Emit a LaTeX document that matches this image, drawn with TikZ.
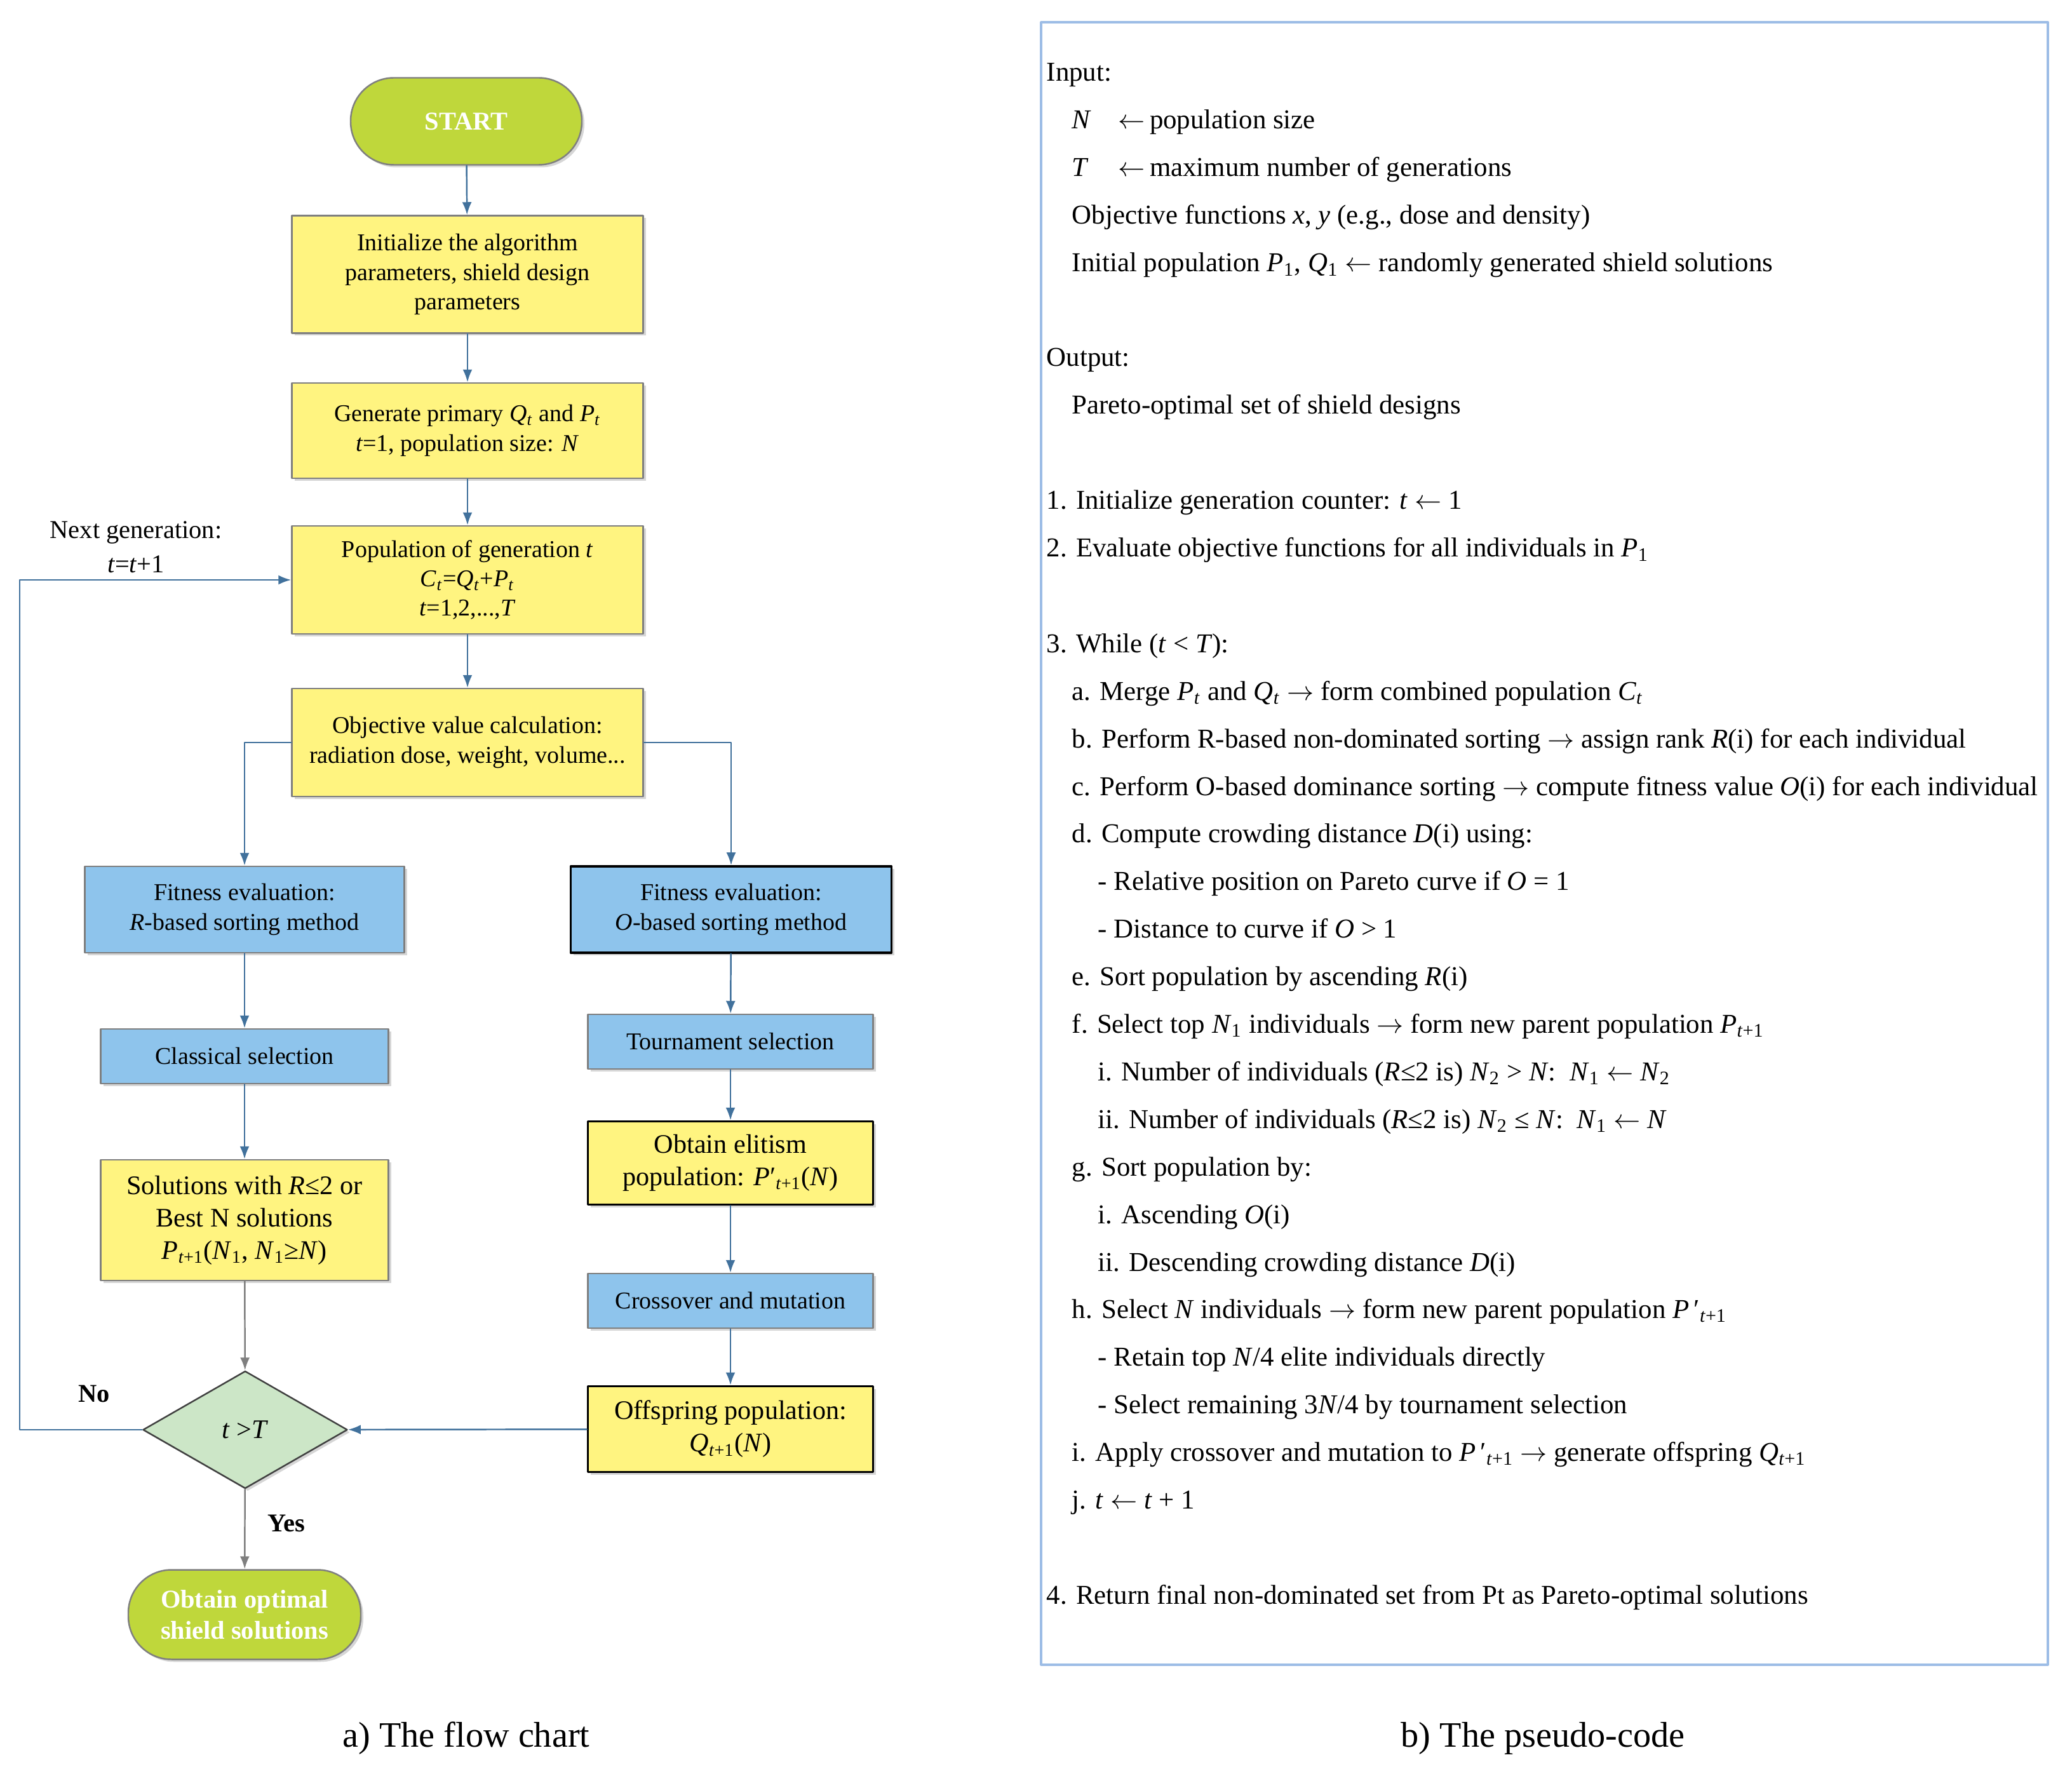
\documentclass[tikz,border=0pt]{standalone}
\usepackage{fontspec}
\setmainfont{Liberation Serif}
\usepackage{tikz}
\usetikzlibrary{arrows.meta,shapes.geometric,shadows}
\definecolor{startgreen}{RGB}{191,215,59}
\definecolor{boxyellow}{RGB}{255,244,128}
\definecolor{boxblue}{RGB}{142,196,236}
\definecolor{diagreen}{RGB}{204,230,199}
\definecolor{edgegray}{RGB}{127,127,127}
\definecolor{flowblue}{RGB}{65,113,156}
\definecolor{framblue}{RGB}{157,189,230}
\newcommand{\itv}[1]{\textit{#1}}
\newcommand{\idx}[1]{\textsubscript{#1}}
\newcommand{\lar}{$\leftarrow$}
\newcommand{\rar}{$\rightarrow$}
\tikzset{
  fcbox/.style={draw=edgegray, line width=0.7pt, align=center, inner sep=2pt,
    font=\fontsize{10.8}{13.2}\selectfont,
    drop shadow={shadow xshift=0.4mm, shadow yshift=-0.4mm, fill=black!40, opacity=0.4}},
  yellowbox/.style={fcbox, fill=boxyellow},
  bluebox/.style={fcbox, fill=boxblue},
  darkedge/.style={draw=black, line width=1pt},
  termbox/.style={fcbox, fill=startgreen, rounded corners=0.68cm, text=white,
    font=\fontsize{11.5}{14}\selectfont\bfseries},
  flow/.style={draw=flowblue, line width=0.7pt, -{Latex[length=2mm,width=1.5mm]}},
  grayflow/.style={flow, draw=edgegray},
  codeline/.style={anchor=base west, inner sep=0pt, font=\fontsize{12.2}{15}\selectfont},
  caption/.style={font=\fontsize{16}{19}\selectfont}
}
\begin{document}
\begin{tikzpicture}[line cap=round,line join=round,x=1.0cm,y=1.0cm]
	\useasboundingbox (0,0) rectangle (32.62,-28.04);
	% flow chart
	\node[termbox, minimum width=3.64cm, minimum height=1.37cm] (start) at (7.34,-1.91) {START};
	\node[yellowbox, minimum width=5.53cm, minimum height=1.85cm] (init) at (7.36,-4.32) {Initialize the algorithm\\parameters, shield design\\parameters};
	\node[yellowbox, minimum width=5.53cm, minimum height=1.50cm] (gen) at (7.36,-6.78) {Generate primary \itv{Q}\idx{\itv{t}} and \itv{P}\idx{\itv{t}}\\\itv{t}=1, population size: \itv{N}};
	\node[yellowbox, minimum width=5.53cm, minimum height=1.70cm] (pop) at (7.36,-9.13) {Population of generation \itv{t}\\\itv{C}\idx{\itv{t}}=\itv{Q}\idx{\itv{t}}+\itv{P}\idx{\itv{t}}\\\itv{t}=1,2,...,\itv{T}};
	\node[yellowbox, minimum width=5.53cm, minimum height=1.70cm] (obj) at (7.36,-11.69) {Objective value calculation:\\radiation dose, weight, volume...};
	\node[bluebox, minimum width=5.03cm, minimum height=1.36cm] (fitR) at (3.85,-14.32) {Fitness evaluation:\\\itv{R}-based sorting method};
	\node[bluebox, darkedge, minimum width=5.05cm, minimum height=1.36cm] (fitO) at (11.51,-14.32) {Fitness evaluation:\\\itv{O}-based sorting method};
	\node[bluebox, minimum width=4.53cm, minimum height=0.86cm] (clsel) at (3.85,-16.63) {Classical selection};
	\node[bluebox, minimum width=4.49cm, minimum height=0.86cm] (tour) at (11.50,-16.40) {Tournament selection};
	\node[yellowbox, font=\fontsize{12}{14.5}\selectfont, minimum width=4.53cm, minimum height=1.90cm] (sol) at (3.85,-19.21) {Solutions with \itv{R}≤2 or\\Best N solutions\\\itv{P}\idx{\itv{t}+1}(\itv{N}\idx{1}, \itv{N}\idx{1}≥\itv{N})};
	\node[yellowbox, darkedge, font=\fontsize{12}{14.5}\selectfont, minimum width=4.49cm, minimum height=1.31cm] (elit) at (11.50,-18.31) {Obtain elitism\\population: \itv{P}′\idx{\itv{t}+1}(\itv{N})};
	\node[bluebox, minimum width=4.49cm, minimum height=0.86cm] (cross) at (11.50,-20.48) {Crossover and mutation};
	\node[yellowbox, darkedge, font=\fontsize{12}{14.5}\selectfont, minimum width=4.49cm, minimum height=1.35cm] (off) at (11.50,-22.50) {Offspring population:\\\itv{Q}\idx{\itv{t}+1}(\itv{N})};
	\node[fcbox, diamond, draw=black!75, fill=diagreen, inner sep=0pt, font=\fontsize{12}{14.5}\selectfont, minimum width=3.22cm, minimum height=1.85cm] (dec) at (3.86,-22.51) {\itv{t} >\itv{T}};
	\node[termbox, minimum width=3.66cm, minimum height=1.41cm] (fin) at (3.85,-25.42) {Obtain optimal\\shield solutions};
	\coordinate (loopc) at (0.31,-22.51);
	% connectors
	\draw[flow] (start) -- (init);
	\draw[flow] (init) -- (gen);
	\draw[flow] (gen) -- (pop);
	\draw[flow] (pop) -- (obj);
	\draw[flow] (obj.west) -| (fitR.north);
	\draw[flow] (obj.east) -| (fitO.north);
	\draw[flow] (fitR) -- (clsel);
	\draw[flow] (clsel) -- (sol);
	\draw[grayflow] (sol) -- (dec);
	\draw[flow] (fitO) -- (tour);
	\draw[flow] (tour) -- (elit);
	\draw[flow] (elit) -- (cross);
	\draw[flow] (cross) -- (off);
	\draw[flow] (off) -- (dec);
	\draw[grayflow] (dec) -- (fin);
	\draw[flow] (dec.west) -- (loopc) |- (pop.west);
	\draw (2.14,-8.38) node[font=\fontsize{11.5}{14}\selectfont] (nextgen) {Next generation:};
	\draw (2.14,-8.88) node[font=\fontsize{11.5}{14}\selectfont] (nextt) {\itv{t}=\itv{t}+1};
	\draw (1.48,-21.94) node[font=\fontsize{11.5}{14}\selectfont\bfseries] (nolab) {No};
	\draw (4.51,-23.98) node[font=\fontsize{11.5}{14}\selectfont\bfseries] (yeslab) {Yes};
	% pseudo-code
	\draw[framblue, line width=0.9pt] (16.39,-0.35) rectangle (32.24,-26.21);
	\draw (16.47,-1.28) node[codeline] (l0) {Input:};
	\draw (16.87,-2.03) node[codeline] (l1) {\makebox[0.73cm][l]{\itv{N}}\lar\,population size};
	\draw (16.87,-2.78) node[codeline] (l2) {\makebox[0.73cm][l]{\itv{T}}\lar\,maximum number of generations};
	\draw (16.87,-3.53) node[codeline] (l3) {Objective functions \itv{x}, \itv{y} (e.g., dose and density)};
	\draw (16.87,-4.28) node[codeline] (l4) {Initial population \itv{P}\idx{1}, \itv{Q}\idx{1} \lar\ randomly generated shield solutions};
	\draw (16.47,-5.77) node[codeline] (l6) {Output:};
	\draw (16.87,-6.52) node[codeline] (l7) {Pareto-optimal set of shield designs};
	\draw (16.47,-8.02) node[codeline] (l9) {1. Initialize generation counter: \itv{t} \lar\ 1};
	\draw (16.47,-8.77) node[codeline] (l10) {2. Evaluate objective functions for all individuals in \itv{P}\idx{1}};
	\draw (16.47,-10.27) node[codeline] (l12) {3. While (\itv{t} < \itv{T}):};
	\draw (16.87,-11.02) node[codeline] (l13) {a. Merge \itv{P}\idx{\itv{t}} and \itv{Q}\idx{\itv{t}} \rar\ form combined population \itv{C}\idx{\itv{t}}};
	\draw (16.87,-11.77) node[codeline] (l14) {b. Perform R-based non-dominated sorting \rar\ assign rank \itv{R}(i) for each individual};
	\draw (16.87,-12.52) node[codeline] (l15) {c. Perform O-based dominance sorting \rar\ compute fitness value \itv{O}(i) for each individual};
	\draw (16.87,-13.26) node[codeline] (l16) {d. Compute crowding distance \itv{D}(i) using:};
	\draw (17.28,-14.01) node[codeline] (l17) {- Relative position on Pareto curve if \itv{O} = 1};
	\draw (17.28,-14.76) node[codeline] (l18) {- Distance to curve if \itv{O} > 1};
	\draw (16.87,-15.51) node[codeline] (l19) {e. Sort population by ascending \itv{R}(i)};
	\draw (16.87,-16.26) node[codeline] (l20) {f. Select top \itv{N}\idx{1} individuals \rar\ form new parent population \itv{P}\idx{\itv{t}+1}};
	\draw (17.28,-17.01) node[codeline] (l21) {i. Number of individuals (\itv{R}≤2 is) \itv{N}\idx{2} > \itv{N}:\ \ \itv{N}\idx{1} \lar\ \itv{N}\idx{2}};
	\draw (17.28,-17.76) node[codeline] (l22) {ii. Number of individuals (\itv{R}≤2 is) \itv{N}\idx{2} ≤ \itv{N}:\ \ \itv{N}\idx{1} \lar\ \itv{N}};
	\draw (16.87,-18.51) node[codeline] (l23) {g. Sort population by:};
	\draw (17.28,-19.26) node[codeline] (l24) {i. Ascending \itv{O}(i)};
	\draw (17.28,-20.01) node[codeline] (l25) {ii. Descending crowding distance \itv{D}(i)};
	\draw (16.87,-20.75) node[codeline] (l26) {h. Select \itv{N} individuals \rar\ form new parent population \itv{P}\,′\idx{\itv{t}+1}};
	\draw (17.28,-21.50) node[codeline] (l27) {- Retain top \itv{N}/4 elite individuals directly};
	\draw (17.28,-22.25) node[codeline] (l28) {- Select remaining 3\itv{N}/4 by tournament selection};
	\draw (16.87,-23.00) node[codeline] (l29) {i. Apply crossover and mutation to \itv{P}\,′\idx{\itv{t}+1} \rar\ generate offspring \itv{Q}\idx{\itv{t}+1}};
	\draw (16.87,-23.75) node[codeline] (l30) {j. \itv{t} \lar\ \itv{t} + 1};
	\draw (16.47,-25.25) node[codeline] (l32) {4. Return final non-dominated set from Pt as Pareto-optimal solutions};
	% captions
	\draw (7.34,-27.37) node[caption] (capa) {a) The flow chart};
	\draw (24.29,-27.37) node[caption] (capb) {b) The pseudo-code};
\end{tikzpicture}
\end{document}
